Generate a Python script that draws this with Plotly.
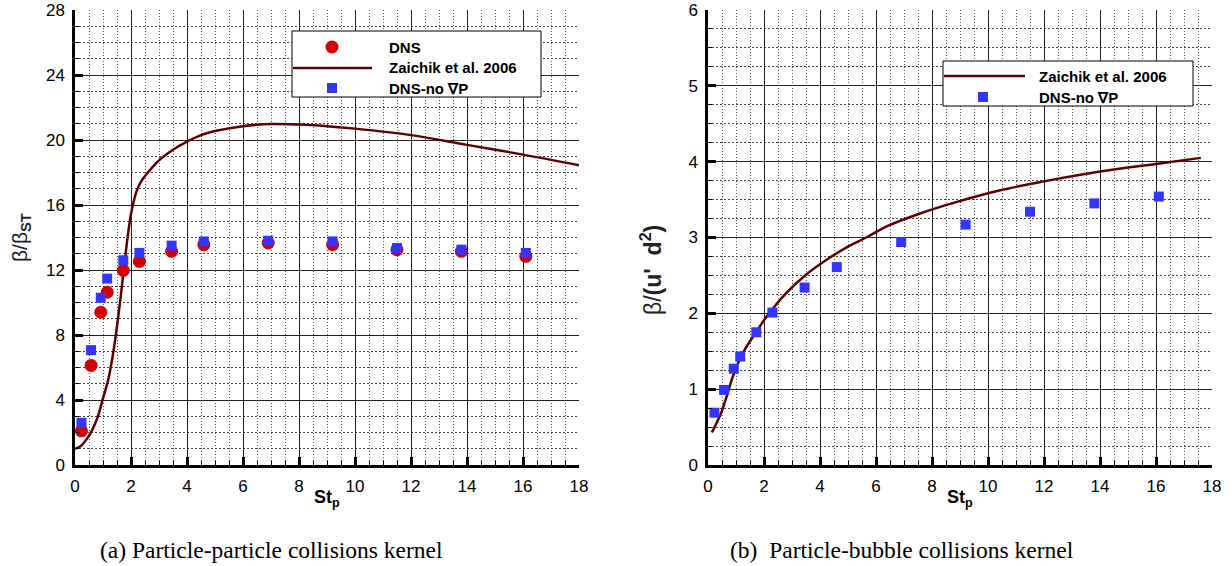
import plotly.graph_objects as go

# Stokes numbers of the simulated cases
st_dns = [0.23, 0.575, 0.92, 1.15, 1.725, 2.3, 3.45, 4.6, 6.9, 9.2, 11.5, 13.8, 16.1]

# (a) particle-particle kernel, normalised by beta_ST
pp_dns = [2.1, 6.13, 9.4, 10.63, 11.98, 12.53, 13.15, 13.56, 13.66, 13.56, 13.25, 13.15, 12.84]
pp_nogradp = [2.6, 7.07, 10.29, 11.47, 12.6, 13.05, 13.5, 13.76, 13.8, 13.76, 13.35, 13.25, 13.05]
pp_model_st = [0.0, 0.2, 0.4, 0.6, 0.8, 1.0, 1.2, 1.4, 1.6, 1.8, 1.9, 2.0, 2.1, 2.2, 2.3, 2.4, 2.6,
               3.0, 3.5, 4.0, 4.5, 5.0, 6.0, 7.0, 8.0, 9.0, 10.0, 12.0, 14.0, 16.0, 18.0]
pp_model = [1.0, 1.15, 1.55, 2.1, 2.9, 4.1, 5.35, 7.3, 9.9, 12.9, 14.3, 15.45, 16.25, 16.85, 17.25, 17.55, 18.0,
            18.75, 19.4, 19.9, 20.3, 20.55, 20.85, 20.98, 20.95, 20.85, 20.7, 20.3, 19.7, 19.1, 18.45]

# (b) particle-bubble kernel, normalised by u' d^2
pb_nogradp = [0.69, 0.99, 1.27, 1.43, 1.75, 2.01, 2.34, 2.61, 2.94, 3.17, 3.34, 3.45, 3.54]
pb_model_st = [0.13, 0.2, 0.3, 0.45, 0.67, 0.9, 1.25, 1.75, 2.1, 2.8, 3.5, 4.25, 5.0, 5.7, 6.4,
               7.6, 8.8, 10.4, 12.0, 14.0, 16.0, 17.6]
pb_model = [0.43, 0.47, 0.55, 0.67, 0.91, 1.18, 1.48, 1.77, 1.96, 2.27, 2.51, 2.71, 2.88, 3.01, 3.15,
            3.32, 3.46, 3.62, 3.74, 3.87, 3.97, 4.05]

W, H = 1232, 566
RED = "#d20000"
BLUE = "#3434ff"
MAROON = "#5c0000"
SANS = "Liberation Sans"


def px(x):
    return x / W


def py(y):
    return 1 - y / H


fig = go.Figure()

# panel (a)
fig.add_trace(go.Scatter(x=pp_model_st, y=pp_model, mode="lines", line=dict(color=MAROON, width=2.5, shape="spline"),
                         xaxis="x", yaxis="y", showlegend=False))
fig.add_trace(go.Scatter(x=st_dns, y=pp_dns, mode="markers",
                         marker=dict(symbol="circle", size=13, color=RED, line=dict(width=0)),
                         xaxis="x", yaxis="y", showlegend=False))
fig.add_trace(go.Scatter(x=st_dns, y=pp_nogradp, mode="markers",
                         marker=dict(symbol="square", size=10, color=BLUE, line=dict(width=0)),
                         xaxis="x", yaxis="y", showlegend=False))

# panel (b)
fig.add_trace(go.Scatter(x=pb_model_st, y=pb_model, mode="lines", line=dict(color=MAROON, width=2.5, shape="spline"),
                         xaxis="x2", yaxis="y2", showlegend=False))
fig.add_trace(go.Scatter(x=st_dns, y=pb_nogradp, mode="markers",
                         marker=dict(symbol="square", size=10, color=BLUE, line=dict(width=0)),
                         xaxis="x2", yaxis="y2", showlegend=False))


def axis_style(rng, dtick, minor_dtick, domain, anchor, minor_color, minor_dash):
    return dict(
        range=rng, domain=domain, anchor=anchor, dtick=dtick, tick0=0, automargin=False,
        showline=True, linecolor="black", linewidth=2.5, mirror=False,
        ticks="inside", ticklen=8, tickwidth=2.5, tickcolor="black",
        showgrid=True, gridcolor="#222222", gridwidth=1, zeroline=False,
        tickfont=dict(family=SANS, size=17, color="black"),
        ticklabelstandoff=4,
        minor=dict(dtick=minor_dtick, tick0=0, ticks="inside", ticklen=4, tickwidth=1, tickcolor="black",
                   showgrid=True, gridcolor=minor_color, gridwidth=1, griddash=minor_dash),
    )


yd = [py(465), py(10)]
fig.update_layout(
    width=W, height=H, margin=dict(l=0, r=0, t=0, b=0, autoexpand=False),
    paper_bgcolor="white", plot_bgcolor="white", showlegend=False,
    xaxis=axis_style([0, 18], 2, 0.5, [px(75), px(579)], "y", "#555555", "1px,2px"),
    yaxis=axis_style([0, 28], 4, 1, yd, "x", "#444444", "2px,2px"),
    xaxis2=axis_style([0, 18], 2, 0.5, [px(708), px(1212)], "y2", "#555555", "1px,2px"),
    yaxis2=axis_style([0, 6], 1, 0.25, yd, "x2", "#444444", "2px,2px"),
)

annotations = []
shapes = []


def text(x, y, s, size, angle=0, family=SANS, color="black", xanchor="center"):
    annotations.append(dict(x=px(x), y=py(y), xref="paper", yref="paper", text=s, showarrow=False,
                            textangle=angle, xanchor=xanchor, yanchor="middle",
                            font=dict(family=family, size=size, color=color)))


# axis titles
text(327, 498, "<b>St<sub>p</sub></b>", 18)
text(960, 498, "<b>St<sub>p</sub></b>", 18)
text(21, 238, "β/β<sub><b>ST</b></sub>", 21, angle=-90, color="#222")
text(651, 270, "β/<b>(u'  d<sup>2</sup>)</b>", 23, angle=-90, color="#222")

# captions
text(271, 550, "(a) Particle-particle collisions kernel", 23.5, family="Liberation Serif")
text(902, 550, "(b)  Particle-bubble collisions kernel", 23.5, family="Liberation Serif")


def legend_box(x0, y0, x1, y1):
    shapes.append(dict(type="rect", xref="paper", yref="paper", x0=px(x0), x1=px(x1), y0=py(y1), y1=py(y0),
                       line=dict(color="black", width=1), fillcolor="white", layer="above"))


def legend_line(x0, x1, y):
    shapes.append(dict(type="line", xref="paper", yref="paper", x0=px(x0), x1=px(x1), y0=py(y), y1=py(y),
                       line=dict(color=MAROON, width=2.5), layer="above"))


def legend_marker(kind, x, y, half, color):
    shapes.append(dict(type=kind, xref="paper", yref="paper", xsizemode="pixel", ysizemode="pixel",
                       xanchor=px(x), yanchor=py(y), x0=-half, x1=half, y0=-half, y1=half,
                       fillcolor=color, line=dict(width=0), layer="above"))


# legend of panel (a)
legend_box(292, 31, 541, 97)
legend_marker("circle", 332, 47, 6.5, RED)
legend_line(293, 372, 68)
legend_marker("rect", 332, 88, 5, BLUE)
text(387, 47, "<b>DNS</b>", 15, xanchor="left")
text(387, 68, "<b>Zaichik et al. 2006</b>", 15, xanchor="left")
text(387, 88, "<b>DNS-no ∇P</b>", 15, xanchor="left")

# legend of panel (b)
legend_box(943, 61, 1193, 106)
legend_line(944, 1025, 76)
legend_marker("rect", 983, 97, 5, BLUE)
text(1037, 76, "<b>Zaichik et al. 2006</b>", 15, xanchor="left")
text(1037, 97, "<b>DNS-no ∇P</b>", 15, xanchor="left")

fig.update_layout(annotations=annotations, shapes=shapes)
fig.write_html("out.html")
